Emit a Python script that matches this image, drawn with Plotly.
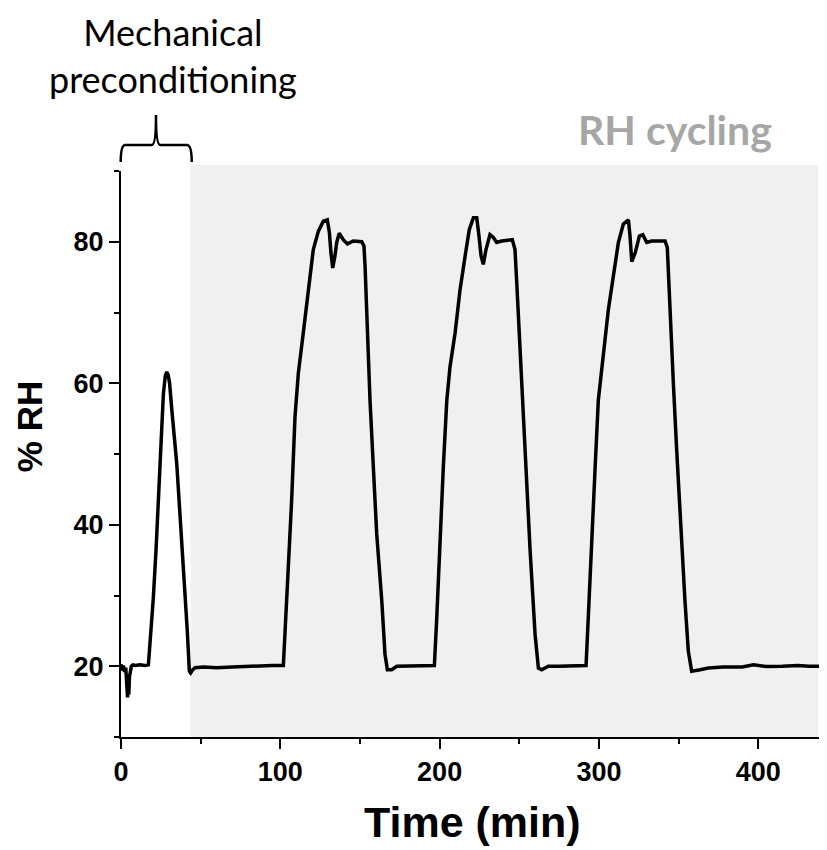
import plotly.graph_objects as go

# --- data (time in min, relative humidity in %) ---
time_min = [
    0, 0.8, 1.5, 2.2, 3.0, 3.6, 4.1, 4.5, 4.9, 5.3, 5.8, 6.5, 7.5, 9, 12, 15, 17.2,
    18.5, 20.3, 22.0, 23.4, 25.5, 26.6, 27.8, 28.7, 29.6, 30.5, 31.8, 33.5, 35.0,
    37.0, 39.1, 41.6, 42.9, 43.7, 45.0, 46.5, 52, 60, 70, 80, 88, 95, 101.9,
    # cycle 1
    102.9, 105.1, 107.1, 109.2, 111.3, 114.4, 117.6, 120.7, 123.9, 127.0, 129.5,
    130.8, 131.8, 132.9, 134.3, 135.4, 137.0, 139.5, 142.1, 145.8, 151.1, 152.5,
    153.2, 154.2, 156.3, 158.4, 160.5, 163.7, 165.7, 167.2, 169.9, 173.1, 180,
    188, 196.7,
    # cycle 2
    198.2, 200.3, 202.3, 204.5, 206.5, 209.7, 212.8, 216.0, 218.6, 221.2, 223.3,
    224.7, 226.0, 227.4, 229.1, 231.6, 233.7, 235.8, 239.0, 245.6, 247.3, 248.4,
    250.5, 252.5, 254.7, 256.8, 259.9, 262.0, 264.1, 268.2, 275, 283, 291.9,
    # cycle 3
    293.3, 295.5, 297.6, 299.6, 302.8, 305.9, 309.0, 312.2, 315.3, 318.5, 319.5,
    320.6, 322.7, 325.4, 327.5, 330.0, 333.1, 341.5, 342.9, 344.2, 346.7, 348.8,
    350.9, 354.0, 356.1, 358.2, 363.5, 368.7, 378, 390, 397, 405, 415, 425, 432,
    439,
]

rh_percent = [
    20.3, 19.4, 20.1, 19.2, 19.8, 17.0, 15.6, 16.8, 16.0, 18.5, 19.6, 20.0, 20.2,
    20.1, 20.2, 20.1, 20.2, 24.0, 29.7, 36.5, 43.9, 53.4, 58.5, 61.0, 61.6, 61.2,
    60.0, 56.5, 52.5, 48.6, 41.5, 34.4, 25.0, 19.3, 19.05, 19.5, 19.8, 19.9, 19.8,
    19.9, 20.0, 20.1, 20.1, 20.1,
    # cycle 1
    24.5, 33.95, 43.4, 55.2, 61.4, 67.1, 73.2, 78.9, 81.5, 82.9, 83.1, 81.3, 78.4,
    76.3, 78.0, 79.9, 81.2, 80.3, 79.7, 80.1, 80.0, 79.4, 76.5, 69.4, 57.6, 48.1,
    38.7, 29.2, 21.7, 19.5, 19.5, 20.0, 20.0, 20.1, 20.1,
    # cycle 2
    26.9, 38.7, 48.1, 57.6, 62.3, 67.1, 73.2, 78.0, 81.7, 83.4, 83.4, 80.8, 78.0,
    76.8, 78.9, 81.0, 80.6, 79.9, 80.1, 80.3, 78.9, 74.2, 64.7, 55.2, 45.8, 36.3,
    24.5, 19.75, 19.5, 20.0, 20.0, 20.1, 20.1,
    # cycle 3
    26.9, 38.7, 48.1, 57.6, 64.7, 70.4, 75.1, 79.9, 82.5, 83.1, 80.8, 77.2, 78.4,
    80.8, 81.0, 79.9, 80.1, 80.1, 79.2, 71.8, 60.0, 50.5, 41.0, 29.2, 22.1, 19.3,
    19.5, 19.75, 19.9, 19.9, 20.2, 19.95, 20.0, 20.1, 20.0, 20.0,
]

x_ticks = [0, 100, 200, 300, 400]
y_ticks = [20, 40, 60, 80]

# --- figure ---
fig = go.Figure()

fig.add_trace(go.Scatter(
    x=time_min, y=rh_percent, mode="lines",
    line=dict(color="black", width=3.5),
    showlegend=False, hoverinfo="skip",
))

# shaded RH-cycling window (sticks out a little above the axis top)
fig.add_shape(
    type="rect", xref="x", yref="paper",
    x0=43.7, x1=437.6, y0=0, y1=1.0106,
    fillcolor="#f0f0f0", line=dict(width=0), layer="below",
)

# curly bracket over the preconditioning phase
brace = ("M -0.0004,1.016 Q -0.0004,1.046 0.006,1.046 L 0.044,1.046 "
         "Q 0.0499,1.046 0.0499,1.099 Q 0.0499,1.046 0.056,1.046 L 0.094,1.046 "
         "Q 0.1009,1.046 0.1009,1.016")
fig.add_shape(type="path", xref="paper", yref="paper", path=brace,
              line=dict(color="black", width=2.5))

fig.add_annotation(
    text="Mechanical<br>preconditioning", xref="paper", yref="paper",
    x=0.0742, y=1.2037, xanchor="center", yanchor="middle", showarrow=False,
    font=dict(family="Lato", size=36, color="black"),
)
fig.add_annotation(
    text="<b>RH cycling</b>", xref="paper", yref="paper",
    x=0.790, y=1.0725, xanchor="center", yanchor="middle", showarrow=False,
    font=dict(family="Lato", size=41, color="#a6a6a6"),
)
fig.add_annotation(
    text="<b>% RH</b>", xref="paper", yref="paper", textangle=-90,
    x=-0.1312, y=0.5475, xanchor="center", yanchor="middle", showarrow=False,
    font=dict(family="Liberation Sans", size=35, color="black"),
)
fig.add_annotation(
    text="<b>Time (min)</b>", xref="paper", yref="paper",
    x=0.5014, y=-0.150, xanchor="center", yanchor="middle", showarrow=False,
    font=dict(family="Liberation Sans", size=43, color="black"),
)

axis_common = dict(
    showline=True, linecolor="black", linewidth=2,
    ticks="outside", ticklen=10, tickwidth=2, tickcolor="black",
    showgrid=False, zeroline=False,
    tickfont=dict(family="Liberation Sans", size=27, color="black", weight="bold"),
    minor=dict(ticks="outside", ticklen=5, tickwidth=2, tickcolor="black", showgrid=False),
)

fig.update_xaxes(range=[0, 440], tickvals=x_ticks, minor_dtick=50, minor_tick0=0,
                 **axis_common)
fig.update_yaxes(range=[10, 90], tickvals=y_ticks, minor_dtick=10, minor_tick0=0,
                 **axis_common)

# the page body adds an 8 px offset, so the figure is 8 px smaller on each side
fig.update_layout(
    width=819, height=842,
    margin=dict(l=113, r=5, t=163, b=113),
    plot_bgcolor="white", paper_bgcolor="white",
)

fig.write_html("out.html")
